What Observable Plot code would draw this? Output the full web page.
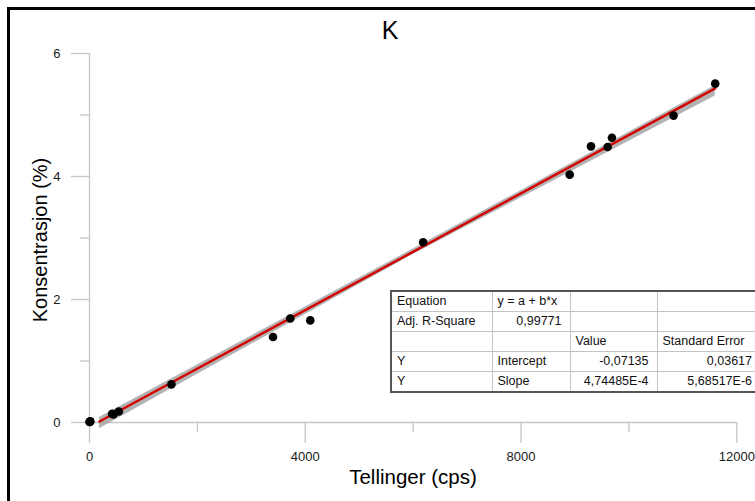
<!DOCTYPE html>
<html>
<head>
<meta charset="utf-8">
<script src="https://cdn.jsdelivr.net/npm/d3@7"></script>
<script src="https://cdn.jsdelivr.net/npm/@observablehq/plot@0.6"></script>
<style>
  html, body { margin: 0; padding: 0; background: #fff; overflow: hidden; }
  #wrap { position: relative; width: 755px; height: 501px; overflow: hidden; font-family: "Liberation Sans", Arial, sans-serif; }
  #frame { position: absolute; left: 7px; top: 7px; width: 800px; height: 600px; border-top: 3px solid #000; border-left: 3px solid #000; box-sizing: border-box; pointer-events: none; }
  .lbl { position: absolute; color: #000; white-space: nowrap; }
  #title { left: 390px; top: 30px; font-size: 25px; transform: translate(-50%, -50%); }
  #xlab { left: 413px; top: 477px; font-size: 20.5px; transform: translate(-50%, -50%); }
  #ylab { left: 40px; top: 240px; font-size: 20px; transform: translate(-50%, -50%) rotate(-90deg); }
  #stats { position: absolute; left: 390px; top: 290px; border-collapse: collapse; font-size: 12.5px; background: #fff; border: 2px solid #555; table-layout: fixed; }
  #stats td { border: 1px solid #c4c4c4; height: 19px; padding: 0 6px 0 5px; white-space: nowrap; overflow: hidden; line-height: 19px; color: #111; }
  #stats td.r { text-align: right; padding-right: 8px; }
</style>
</head>
<body>
<div id="wrap">
  <div id="chart"></div>
  <div id="title" class="lbl">K</div>
  <div id="xlab" class="lbl">Tellinger (cps)</div>
  <div id="ylab" class="lbl">Konsentrasjon (%)</div>
  <table id="stats"></table>
  <div id="frame"></div>
</div>
<script>
// Measured points
const countsX = [0, 8, 16, 420, 444, 543, 1519, 3402, 3722, 4093, 6185, 8902, 9297, 9605, 9685, 10828, 11600];
const concY   = [0.01, 0.01, 0.02, 0.14, 0.13, 0.18, 0.62, 1.39, 1.69, 1.66, 2.93, 4.03, 4.49, 4.48, 4.63, 4.99, 5.51];

// Linear fit line (ends) and confidence band
const fitX = [185, 11600];
const fitY = [0.016, 5.433];
const bandX = [185, 6000, 11600];
const bandLow = [-0.10, 2.73, 5.31];
const bandHigh = [0.08, 2.82, 5.48];

// Ticks
const xMajor = [0, 4000, 8000, 12000];
const xMinor = [2000, 6000, 10000];
const yMajor = [0, 2, 4, 6];
const yMinor = [1, 3, 5];

// Stats table
const statCol1 = ["Equation", "Adj. R-Square", "", "Y", "Y"];
const statCol2 = ["y = a + b*x", "0,99771", "", "Intercept", "Slope"];
const statCol3 = ["", "", "Value", "-0,07135", "4,74485E-4"];
const statCol4 = ["", "", "Standard Error", "0,03617", "5,68517E-6"];
const rightAligned = [[false, false, false, false], [false, true, false, false], [false, false, false, false], [false, false, true, true], [false, false, true, true]];
const colWidths = [101, 78, 87, 104];

const points = countsX.map((x, i) => ({x, y: concY[i]}));
const fit = fitX.map((x, i) => ({x, y: fitY[i]}));
const band = bandX.map((x, i) => ({x, lo: bandLow[i], hi: bandHigh[i]}));
const axisGray = "#c6c6c6";

const chart = Plot.plot({
  width: 755,
  height: 501,
  marginLeft: 89,
  marginRight: 18.7,
  marginTop: 53,
  marginBottom: 79,
  style: {fontFamily: "Liberation Sans, Arial, sans-serif", fontSize: "13px", background: "transparent"},
  x: {domain: [0, 12000]},
  y: {domain: [0, 6]},
  marks: [
    Plot.ruleY([0], {x1: 0, x2: 12000, stroke: axisGray, strokeWidth: 1.3}),
    Plot.ruleX([0], {y1: 0, y2: 6, stroke: axisGray, strokeWidth: 1.3}),
    Plot.axisY(yMajor, {tickSize: 18, tickPadding: 11, stroke: axisGray, fill: "#1a1a1a", label: null, strokeWidth: 1.3, tickFormat: d => String(d)}),
    Plot.axisY(yMinor, {tickSize: 9, tickFormat: () => "", stroke: axisGray, label: null, strokeWidth: 1.3}),
    Plot.axisX(xMajor, {tickSize: 21, tickPadding: 8, stroke: axisGray, fill: "#1a1a1a", label: null, strokeWidth: 1.3, tickFormat: d => String(d)}),
    Plot.axisX(xMinor, {tickSize: 10, tickFormat: () => "", stroke: axisGray, label: null, strokeWidth: 1.3}),
    Plot.areaY(band, {x: "x", y1: "lo", y2: "hi", fill: "#9a9a9a", fillOpacity: 0.75}),
    Plot.line(fit, {x: "x", y: "y", stroke: "#d40000", strokeWidth: 2.4}),
    Plot.dot(points, {x: "x", y: "y", r: 4.3, fill: "#000", stroke: "none"})
  ]
});
document.getElementById("chart").appendChild(chart);

// build table
const table = document.getElementById("stats");
const cg = document.createElement("colgroup");
colWidths.forEach(w => { const c = document.createElement("col"); c.style.width = w + "px"; cg.appendChild(c); });
table.appendChild(cg);
table.style.width = colWidths.reduce((a, b) => a + b, 0) + "px";
const cols = [statCol1, statCol2, statCol3, statCol4];
for (let r = 0; r < statCol1.length; r++) {
  const tr = document.createElement("tr");
  cols.forEach((col, c) => {
    const td = document.createElement("td");
    td.textContent = col[r];
    if (rightAligned[r][c]) td.className = "r";
    tr.appendChild(td);
  });
  table.appendChild(tr);
}
</script>
</body>
</html>
